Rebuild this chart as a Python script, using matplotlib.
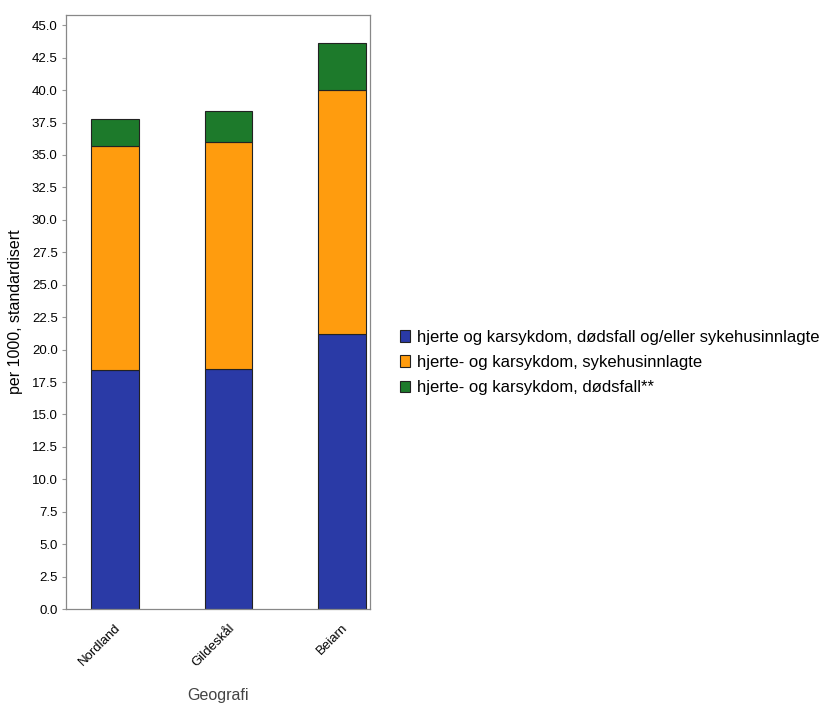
import matplotlib
matplotlib.use('Agg')
import matplotlib.pyplot as plt
import numpy as np

places = ['Nordland', 'Gildeskål', 'Beiarn']
labels = ['hjerte og karsykdom, dødsfall og/eller sykehusinnlagte',
          'hjerte- og karsykdom, sykehusinnlagte',
          'hjerte- og karsykdom, dødsfall**']
blue = [18.4, 18.5, 21.2]
orange = [17.3, 17.5, 18.8]
green = [2.1, 2.4, 3.6]
colors = ['#2a3aa6', '#ff9c0e', '#1d7a2b']
yticks = np.arange(0, 45.1, 2.5)

plt.rcParams['font.family'] = ['Liberation Sans', 'DejaVu Sans']

fig = plt.figure(figsize=(8.25, 7.05), dpi=100)
ax = fig.add_axes([0.080, 0.136, 0.369, 0.843])

x = np.arange(len(places))
w = 0.42
bottom = np.zeros(len(places))
for vals, c, lab in zip([blue, orange, green], colors, labels):
    ax.bar(x, vals, w, bottom=bottom, color=c, edgecolor='#222222', linewidth=0.8, label=lab)
    bottom += np.array(vals)

ax.set_xlim(-0.43, 2.25)
ax.set_ylim(0, 45.8)
ax.set_yticks(yticks)
ax.set_yticklabels([f'{v:.1f}' for v in yticks], fontsize=9.5)
ax.set_xticks(x)
ax.set_xticklabels(places, rotation=45, ha='right', rotation_mode='anchor', fontsize=9.5)
ax.tick_params(axis='x', length=0, pad=9)
ax.tick_params(axis='y', length=3, color='#999999', pad=3)
for s in ax.spines.values():
    s.set_color('#888888')
    s.set_linewidth(0.9)
ax.set_ylabel('per 1000, standardisert', fontsize=11.5, labelpad=6)
ax.set_xlabel('Geografi', fontsize=11.5, color='#444444', labelpad=14)

ax.legend(loc='center left', bbox_to_anchor=(400 / 825, 0.486), bbox_transform=fig.transFigure,
          frameon=False, fontsize=12, handlelength=0.6, handleheight=0.7, handletextpad=0.4,
          labelspacing=0.62, borderaxespad=0, borderpad=0)

fig.savefig('out.png', dpi=100)
